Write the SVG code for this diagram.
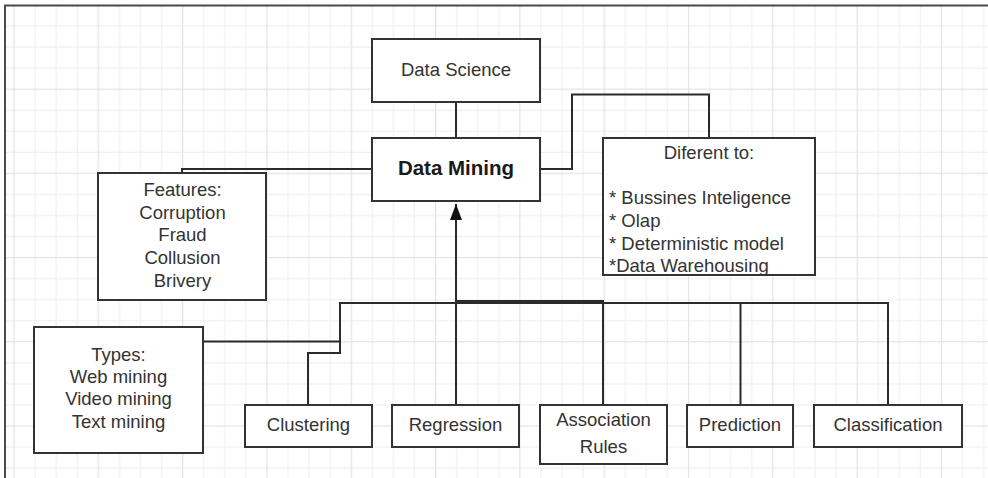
<svg xmlns="http://www.w3.org/2000/svg" width="988" height="478" viewBox="0 0 988 478">
  <defs>
    <pattern id="grid" patternUnits="userSpaceOnUse" x="3.46" y="-5.525" width="84.32" height="84.2">
      <g stroke="#f0f0f0" stroke-width="1.2">
        <line x1="31.62" y1="0" x2="31.62" y2="84.2"/>
        <line x1="52.70" y1="0" x2="52.70" y2="84.2"/>
        <line x1="73.78" y1="0" x2="73.78" y2="84.2"/>
        <line x1="0" y1="31.575" x2="84.32" y2="31.575"/>
        <line x1="0" y1="52.625" x2="84.32" y2="52.625"/>
        <line x1="0" y1="73.675" x2="84.32" y2="73.675"/>
      </g>
      <g stroke="#e3e3e3" stroke-width="1.2">
        <line x1="10.54" y1="0" x2="10.54" y2="84.2"/>
        <line x1="0" y1="10.525" x2="84.32" y2="10.525"/>
      </g>
    </pattern>
    <marker id="arrow" markerUnits="userSpaceOnUse" markerWidth="18" markerHeight="14" refX="17" refY="7" orient="auto" viewBox="0 0 18 14">
      <path d="M1,1 L17,7 L1,13 Z" fill="#111"/>
    </marker>
    <style>
      .box { fill: #ffffff; stroke: #333333; stroke-width: 2; }
      .txt { font-family: "Liberation Sans", Arial, sans-serif; font-size: 18.5px; fill: #333333; }
      .c { text-anchor: middle; }
      .bold { font-weight: bold; font-size: 20.5px; fill: #1a1a1a; }
      .conn { fill: none; stroke: #2b2b2b; stroke-width: 2; }
    </style>
  </defs>

  <rect x="0" y="0" width="988" height="478" fill="#ffffff"/>
  <rect x="5" y="5.5" width="983" height="472.5" fill="url(#grid)"/>
  <g id="frame" stroke="#4a4a4a" stroke-width="2" fill="none">
    <line x1="4" y1="5.5" x2="988" y2="5.5"/>
    <line x1="5" y1="5" x2="5" y2="478"/>
  </g>

  <g id="connectors">
    <path class="conn" d="M456,102 V138"/>
    <path class="conn" d="M540,169 H572 V94.5 H709 V138"/>
    <path class="conn" d="M372,169 H182 V173"/>
    <path class="conn" d="M203,341.5 H340 V303 H456"/>
    <path class="conn" d="M308,405 V353 H340 V341.5"/>
    <path class="conn" d="M456,405 V204" marker-end="url(#arrow)"/>
    <path class="conn" d="M603,405 V301 H456"/>
    <path class="conn" d="M740.5,405 V303 H456"/>
    <path class="conn" d="M888,405 V303 H456"/>
  </g>

  <g id="data-science">
    <rect class="box" x="372" y="39" width="168" height="63"/>
    <text class="txt c" x="456" y="76">Data Science</text>
  </g>

  <g id="data-mining">
    <rect class="box" x="372" y="138" width="168" height="63"/>
    <text class="txt c bold" x="456" y="174.5">Data Mining</text>
  </g>

  <g id="different-to">
    <rect class="box" x="603" y="138" width="212" height="137"/>
    <text class="txt c" x="709" y="159">Diferent to:</text>
    <text class="txt" x="609" y="203.5">* Bussines Inteligence</text>
    <text class="txt" x="609" y="226.5">* Olap</text>
    <text class="txt" x="609" y="249.5">* Deterministic model</text>
    <text class="txt" x="609" y="271.5">*Data Warehousing</text>
  </g>

  <g id="features">
    <rect class="box" x="98" y="173" width="168" height="127"/>
    <text class="txt c" x="182.5" y="196">Features:</text>
    <text class="txt c" x="182.5" y="218.7">Corruption</text>
    <text class="txt c" x="182.5" y="241.3">Fraud</text>
    <text class="txt c" x="182.5" y="264">Collusion</text>
    <text class="txt c" x="182.5" y="286.7">Brivery</text>
  </g>

  <g id="types">
    <rect class="box" x="34" y="327" width="169" height="126"/>
    <text class="txt c" x="118.5" y="361">Types:</text>
    <text class="txt c" x="118.5" y="383">Web mining</text>
    <text class="txt c" x="118.5" y="405.3">Video mining</text>
    <text class="txt c" x="118.5" y="427.6">Text mining</text>
  </g>

  <g id="clustering">
    <rect class="box" x="245" y="405" width="127" height="42"/>
    <text class="txt c" x="308.5" y="431">Clustering</text>
  </g>

  <g id="regression">
    <rect class="box" x="392" y="405" width="127" height="42"/>
    <text class="txt c" x="455.5" y="431">Regression</text>
  </g>

  <g id="association-rules">
    <rect class="box" x="540" y="405" width="127" height="59"/>
    <text class="txt c" x="603.5" y="426">Association</text>
    <text class="txt c" x="603.5" y="452.5">Rules</text>
  </g>

  <g id="prediction">
    <rect class="box" x="687" y="405" width="106" height="42"/>
    <text class="txt c" x="740" y="431">Prediction</text>
  </g>

  <g id="classification">
    <rect class="box" x="814" y="405" width="148" height="42"/>
    <text class="txt c" x="888" y="431">Classification</text>
  </g>
</svg>
